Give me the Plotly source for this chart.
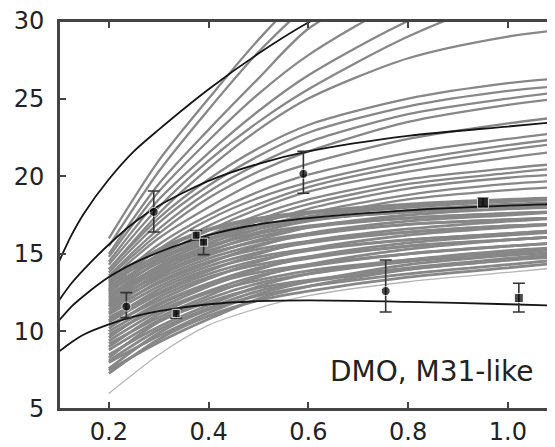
import plotly.graph_objects as go

# ---- data ----
# knot positions for the simulated (gray) rotation curves
x_gray = [0.2, 0.3, 0.4, 0.5, 0.6, 0.8, 1.0, 1.1]

# upper, well separated gray curves
gray_upper = [
    [16.0, 21.0, 25.0, 28.8, 32.0, 36.0, 39.0, 40.0],
    [15.5, 20.3, 24.3, 28.0, 31.0, 35.0, 38.0, 39.0],
    [15.0, 19.5, 23.0, 26.3, 29.5, 33.0, 36.0, 37.0],
    [14.8, 19.0, 22.3, 25.3, 27.8, 31.5, 34.0, 35.0],
    [14.5, 18.5, 21.5, 24.2, 26.5, 30.0, 32.5, 33.5],
    [14.3, 18.0, 21.0, 23.5, 25.6, 29.0, 31.5, 32.0],
    [14.0, 17.6, 20.5, 23.0, 25.0, 27.6, 29.0, 29.4],
    [14.0, 17.3, 19.8, 21.8, 23.3, 25.0, 26.0, 26.3],
    [13.8, 17.0, 19.4, 21.3, 22.8, 24.5, 25.5, 25.8],
    [13.6, 16.6, 19.0, 20.8, 22.2, 24.0, 25.0, 25.4],
    [13.5, 16.3, 18.6, 20.3, 21.6, 23.5, 24.6, 25.0],
    [13.3, 16.0, 18.0, 19.7, 20.8, 22.4, 23.4, 23.8],
    [13.0, 15.6, 17.5, 19.0, 20.1, 21.5, 22.4, 22.8],
    [12.8, 15.3, 17.2, 18.6, 19.6, 21.0, 22.0, 22.4],
    [12.6, 15.0, 16.8, 18.2, 19.3, 20.7, 21.7, 22.1],
    [12.5, 14.8, 16.5, 17.9, 19.0, 20.3, 21.2, 21.6],
    [12.3, 14.5, 16.2, 17.5, 18.5, 19.8, 20.5, 20.8],
    [12.0, 14.2, 15.9, 17.2, 18.2, 19.5, 20.2, 20.5],
    [11.8, 14.0, 15.6, 16.9, 17.9, 19.2, 19.9, 20.1],
    [11.6, 13.8, 15.4, 16.6, 17.6, 18.8, 19.5, 19.7],
    [11.4, 13.5, 15.1, 16.3, 17.3, 18.5, 19.1, 19.3],
]

# dense band of gray curves
gray_dense = [
    [7.3, 9.5, 11.0, 12.0, 12.6, 13.5, 14.1, 14.4],
    [7.5, 9.3, 10.8, 12.1, 12.9, 14.0, 14.6, 14.8],
    [7.6, 9.9, 11.4, 12.3, 12.9, 13.7, 14.3, 14.6],
    [8.0, 9.7, 11.2, 12.4, 13.2, 14.3, 14.9, 15.1],
    [8.1, 10.1, 11.5, 12.6, 13.2, 14.0, 14.6, 14.9],
    [8.3, 10.6, 11.9, 12.8, 13.3, 14.1, 14.7, 15.0],
    [8.5, 10.3, 11.7, 12.9, 13.7, 14.6, 15.2, 15.4],
    [8.8, 10.7, 12.1, 13.1, 13.7, 14.5, 15.0, 15.3],
    [9.0, 11.1, 12.5, 13.3, 13.9, 14.6, 15.1, 15.3],
    [9.2, 10.9, 12.3, 13.5, 14.3, 15.3, 15.9, 16.1],
    [9.4, 11.3, 12.6, 13.6, 14.2, 15.0, 15.5, 15.7],
    [9.6, 11.7, 13.0, 13.8, 14.3, 15.0, 15.5, 15.7],
    [9.8, 11.5, 12.9, 14.0, 14.8, 15.7, 16.2, 16.4],
    [10.0, 11.8, 13.1, 14.1, 14.7, 15.5, 15.9, 16.1],
    [10.2, 12.2, 13.5, 14.3, 14.8, 15.5, 15.9, 16.1],
    [10.4, 12.0, 13.4, 14.5, 15.3, 16.2, 16.7, 16.9],
    [10.6, 12.4, 13.7, 14.6, 15.2, 15.9, 16.3, 16.5],
    [10.7, 12.7, 14.0, 14.8, 15.3, 15.9, 16.3, 16.5],
    [10.9, 12.5, 13.9, 15.0, 15.8, 16.6, 17.1, 17.3],
    [11.1, 12.9, 14.2, 15.1, 15.7, 16.4, 16.8, 16.9],
    [11.2, 13.2, 14.5, 15.3, 15.8, 16.4, 16.8, 16.9],
    [11.4, 13.1, 14.4, 15.5, 16.3, 17.1, 17.5, 17.7],
    [11.6, 13.4, 14.7, 15.6, 16.2, 16.9, 17.2, 17.3],
    [11.7, 13.7, 15.0, 15.8, 16.3, 16.9, 17.2, 17.3],
    [11.9, 13.6, 14.9, 15.9, 16.7, 17.5, 17.9, 18.0],
    [12.1, 13.9, 15.2, 16.1, 16.7, 17.3, 17.6, 17.7],
    [12.2, 14.2, 15.5, 16.3, 16.8, 17.3, 17.6, 17.7],
    [12.4, 14.1, 15.4, 16.4, 17.1, 17.8, 18.2, 18.3],
    [12.6, 14.4, 15.7, 16.6, 17.2, 17.7, 18.0, 18.1],
    [12.7, 14.7, 16.0, 16.8, 17.2, 17.7, 18.0, 18.1],
    [12.9, 14.6, 15.9, 16.8, 17.4, 18.0, 18.4, 18.5],
    [13.1, 14.9, 16.2, 17.1, 17.6, 18.1, 18.4, 18.5],
    [13.2, 15.2, 16.5, 17.2, 17.6, 18.1, 18.4, 18.6],
    [13.4, 15.3, 16.6, 17.3, 17.7, 18.2, 18.5, 18.6],
]

# faint lowest curve
gray_low = [6.0, 8.5, 10.4, 11.5, 12.3, 13.2, 13.8, 14.1]

# black (model) curves
x_black = [0.1, 0.125, 0.15, 0.2, 0.25, 0.3, 0.4, 0.5, 0.6, 0.8, 1.0, 1.1]
black_curves = [
    [14.5, 16.2, 17.6, 19.8, 21.6, 23.0, 25.6, 27.9, 29.9, 33.0, 35.5, 36.5],
    [12.0, 13.1, 14.0, 15.6, 17.0, 18.1, 19.7, 20.8, 21.6, 22.6, 23.2, 23.5],
    [10.7, 11.6, 12.3, 13.5, 14.4, 15.1, 16.2, 16.9, 17.3, 17.8, 18.1, 18.2],
    [8.7, 9.3, 9.8, 10.45, 10.95, 11.3, 11.75, 11.95, 12.0, 11.9, 11.75, 11.65],
]

# observed points with asymmetric errors
obs_x = [0.235, 0.29, 0.335, 0.375, 0.39, 0.59, 0.755, 0.95, 1.022]
obs_y = [11.6, 17.7, 11.15, 16.2, 15.75, 20.15, 12.6, 18.3, 12.15]
obs_err_plus = [0.9, 1.35, 0.3, 0.3, 0.3, 1.45, 2.0, 0.3, 0.95]
obs_err_minus = [0.7, 1.3, 0.3, 0.3, 0.8, 1.25, 1.35, 0.3, 0.9]
obs_symbol = ["circle", "circle", "square", "square", "square", "circle", "circle", "square", "square"]
obs_size = [9, 9, 8, 8, 8, 9, 9, 11, 9]

x_ticks = [0.2, 0.4, 0.6, 0.8, 1.0]
x_ticktext = ["0.2", "0.4", "0.6", "0.8", "1.0"]
y_ticks = [5, 10, 15, 20, 25, 30]
y_ticktext = ["5", "10", "15", "20", "25", "30"]
label_text = "DMO, M31-like"

GRAY = "#878787"
fig = go.Figure()

for ys in gray_dense:
    fig.add_trace(go.Scatter(x=x_gray, y=ys, mode="lines",
                             line=dict(color=GRAY, width=2.8, shape="spline", smoothing=0.8),
                             hoverinfo="skip", showlegend=False))
for ys in gray_upper:
    fig.add_trace(go.Scatter(x=x_gray, y=ys, mode="lines",
                             line=dict(color=GRAY, width=2.3, shape="spline", smoothing=0.8),
                             hoverinfo="skip", showlegend=False))
fig.add_trace(go.Scatter(x=x_gray, y=gray_low, mode="lines",
                         line=dict(color="#b5b5b5", width=1.3, shape="spline", smoothing=0.8),
                         hoverinfo="skip", showlegend=False))

for ys in black_curves:
    fig.add_trace(go.Scatter(x=x_black, y=ys, mode="lines",
                             line=dict(color="#151515", width=1.8, shape="spline", smoothing=0.8),
                             hoverinfo="skip", showlegend=False))

fig.add_trace(go.Scatter(
    x=obs_x, y=obs_y, mode="markers",
    marker=dict(color="black", size=obs_size, symbol=obs_symbol),
    error_y=dict(type="data", symmetric=False, array=obs_err_plus, arrayminus=obs_err_minus,
                 color="#333333", thickness=1.6, width=6),
    showlegend=False))

fig.add_annotation(x=1.054, y=7.4, xref="x", yref="y", text=label_text, showarrow=False,
                   xanchor="right", yanchor="middle",
                   font=dict(family="DejaVu Sans", size=28, color="#222222"))

# frame around the plotting area
fig.add_shape(type="rect", xref="paper", yref="paper", x0=0, x1=1, y0=0, y1=1,
              line=dict(color="#444444", width=2), layer="above")

axis_common = dict(showgrid=False, zeroline=False, showline=True, linewidth=2, linecolor="#444444",
                   mirror="ticks", ticks="inside", ticklen=7, tickwidth=1.5, tickcolor="#444444",
                   ticklabeloverflow="allow",
                   tickfont=dict(family="DejaVu Sans", size=24, color="#222222"))

fig.update_xaxes(range=[0.1, 1.0925], tickvals=x_ticks, ticktext=x_ticktext, **axis_common)
fig.update_yaxes(range=[5, 30], tickvals=y_ticks, ticktext=y_ticktext, ticklabelstandoff=8,
                 **axis_common)

# page body has an 8px margin, so the figure is sized to end at the window edge
fig.update_layout(width=547, height=439, margin=dict(l=51, r=1, t=13, b=38, autoexpand=False),
                  plot_bgcolor="white", paper_bgcolor="white", showlegend=False)

fig.write_html("out.html")
